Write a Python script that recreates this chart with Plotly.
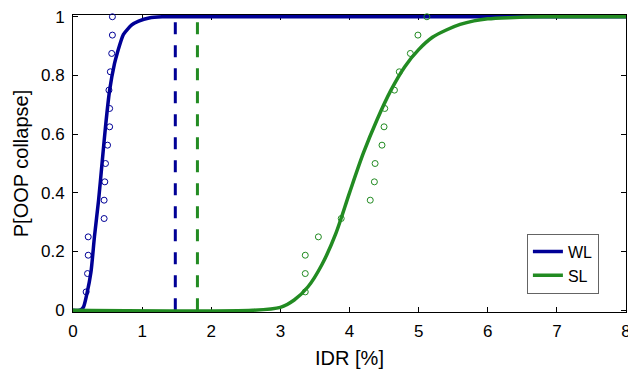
import plotly.graph_objects as go

# ---- data ----
# fitted fragility curves
wl_curve_x = [0.0, 0.10, 0.15, 0.20, 0.26, 0.31, 0.37, 0.42, 0.47, 0.53, 0.60, 0.64, 0.73, 0.85, 0.95, 1.10, 1.29, 2.0, 8.0]
wl_curve_p = [0.0, 0.0, 0.01, 0.055, 0.13, 0.25, 0.375, 0.50, 0.625, 0.75, 0.84, 0.876, 0.94, 0.972, 0.985, 0.996, 1.0, 1.0, 1.0]
sl_curve_x = [0.0, 2.6, 3.0, 3.2, 3.4, 3.6, 3.8, 4.0, 4.2, 4.4, 4.6, 4.8, 5.0, 5.2, 5.4, 5.6, 5.8, 6.0, 6.3, 6.8, 8.0]
sl_curve_p = [0.0, 0.0, 0.01, 0.035, 0.08, 0.155, 0.26, 0.40, 0.535, 0.65, 0.75, 0.83, 0.888, 0.93, 0.955, 0.974, 0.986, 0.993, 0.997, 1.0, 1.0]

# empirical points
emp_p = [i / 16 for i in range(1, 17)]
wl_pts_x = [0.19, 0.21, 0.22, 0.22, 0.45, 0.45, 0.46, 0.47, 0.50, 0.53, 0.53, 0.52, 0.54, 0.56, 0.57, 0.57]
sl_pts_x = [3.36, 3.36, 3.36, 3.55, 3.88, 4.30, 4.36, 4.37, 4.47, 4.50, 4.51, 4.65, 4.72, 4.88, 4.99, 5.12]

# threshold (dashed) lines
wl_thr = 1.48
sl_thr = 1.80

x_ticks = [0, 1, 2, 3, 4, 5, 6, 7, 8]
y_ticks = [0, 0.2, 0.4, 0.6, 0.8, 1]
y_tick_text = ["0", "0.2", "0.4", "0.6", "0.8", "1"]

BLUE = "rgb(0,0,150)"
GREEN = "rgb(34,139,34)"
FONT = "Liberation Sans, Arial, sans-serif"

fig = go.Figure()

# dashed lines
fig.add_trace(go.Scatter(x=[wl_thr, wl_thr], y=[0, 1], mode="lines",
                         line=dict(color=BLUE, width=3, dash="12px,11px"), showlegend=False, hoverinfo="skip"))
fig.add_trace(go.Scatter(x=[sl_thr, sl_thr], y=[0, 1], mode="lines",
                         line=dict(color=GREEN, width=3, dash="12px,11px"), showlegend=False, hoverinfo="skip"))

# fitted curves
fig.add_trace(go.Scatter(x=wl_curve_x, y=wl_curve_p, mode="lines", name="WL",
                         line=dict(color=BLUE, width=3.5, shape="spline", smoothing=0.6)))
fig.add_trace(go.Scatter(x=sl_curve_x, y=sl_curve_p, mode="lines", name="SL",
                         line=dict(color=GREEN, width=3.5, shape="spline", smoothing=0.8)))

# empirical points
fig.add_trace(go.Scatter(x=wl_pts_x, y=emp_p, mode="markers", showlegend=False,
                         marker=dict(symbol="circle-open", size=6, color=BLUE, line=dict(width=1, color=BLUE)),
                         cliponaxis=False))
fig.add_trace(go.Scatter(x=sl_pts_x, y=emp_p, mode="markers", showlegend=False,
                         marker=dict(symbol="circle-open", size=6, color=GREEN, line=dict(width=1, color=GREEN)),
                         cliponaxis=False))

axis_common = dict(showline=True, linecolor="black", linewidth=1, mirror="ticks",
                   ticks="inside", ticklen=5, tickcolor="black", showgrid=False, zeroline=False,
                   tickfont=dict(family=FONT, size=17, color="black"), layer="below traces",
                   ticklabeloverflow="allow")

fig.update_xaxes(range=[0, 8], tickvals=x_ticks, ticktext=[str(v) for v in x_ticks],
                 ticklabelstandoff=4,
                 title=dict(text="IDR [%]", font=dict(family=FONT, size=20, color="black"), standoff=10),
                 **axis_common)
fig.update_yaxes(range=[-0.006, 1.006], tickvals=y_ticks, ticktext=y_tick_text,
                 ticklabelstandoff=4,
                 title=dict(text="P[OOP collapse]", font=dict(family=FONT, size=20, color="black"), standoff=6),
                 **axis_common)

fig.update_layout(
    width=628, height=373,
    margin=dict(l=73, r=2, t=15, b=61, autoexpand=False),
    paper_bgcolor="white", plot_bgcolor="white",
    font=dict(family=FONT, color="black"),
    legend=dict(x=0.951, xanchor="right", y=0.264, yanchor="top",
                bgcolor="white", bordercolor="rgb(100,100,100)", borderwidth=1,
                font=dict(family=FONT, size=16, color="black"), tracegroupgap=0),
)

fig.write_html("out.html")
